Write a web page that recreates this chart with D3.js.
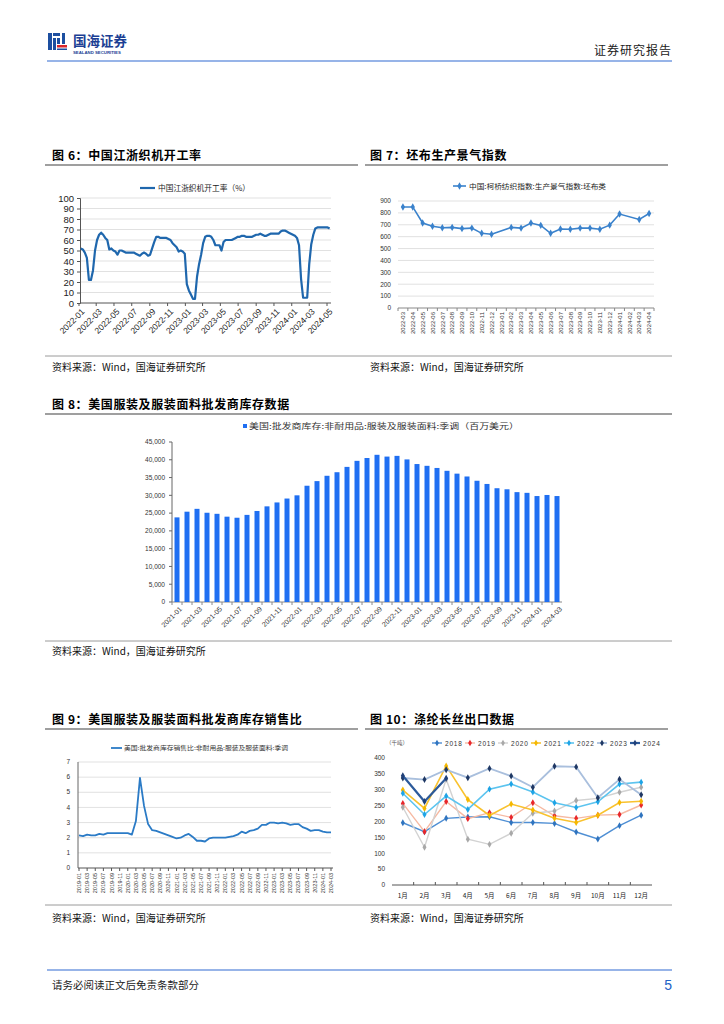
<!DOCTYPE html>
<html><head><meta charset="utf-8">
<script src="https://cdn.jsdelivr.net/npm/d3@7"></script>
<style>
body{margin:0;background:#fff;}
svg text{font-family:"Liberation Sans",Arial,"Noto Sans CJK SC",sans-serif;}
svg text.cjk{font-family:"Noto Sans CJK SC","Liberation Sans",sans-serif;}
</style></head><body>
<svg id="page" width="724" height="1024"></svg>
<script>
// ---------- DATA ----------
// Fig 6: weekly loom operating rate (%), weekly from 2022-01-07
const loomStart = "2022-01-07";
const loomRate = [52,51,48,43,22,22,31,50,60,65,
67,65,62,60,51,52,50,49,46,50,
50,49,48,48,48,48,48,47,46,45,
47,48,47,45,46,52,58,63,63,62,
62,62,62,61,60,57,55,53,49,50,
49,47,18,12,8,4,4,25,37,46,
57,63,64,64,63,60,55,55,55,50,
58,60,60,60,60,61,62,63,63,64,
64,63,63,63,63,64,65,65,66,65,
64,64,65,66,66,66,66,66,68,69,
69,68,67,66,65,64,62,55,23,5,
5,5,37,56,65,71,72,72,72,72,
72,72,71];
const loomTicks = ["2022-01","2022-03","2022-05","2022-07","2022-09","2022-11","2023-01","2023-03","2023-05","2023-07","2023-09","2023-11","2024-01","2024-03","2024-05"];
const loomYTicks = [0,10,20,30,40,50,60,70,80,90,100];

// Fig 7: greige cloth production index
const clothMonths = ["2022-03","2022-04","2022-05","2022-06","2022-07","2022-08","2022-09","2022-10","2022-11","2022-12","2023-01","2023-02","2023-03","2023-04","2023-05","2023-06","2023-07","2023-08","2023-09","2023-10","2023-11","2023-12","2024-01","2024-02","2024-03","2024-04"];
const clothIndex = [850,850,715,688,675,678,668,672,628,620,null,678,672,715,695,628,665,662,672,672,662,697,790,null,745,795];
const clothYTicks = [0,100,200,300,400,500,600,700,800,900];

// Fig 8: US apparel wholesale inventory (million USD)
const invMonths = ["2021-01","2021-02","2021-03","2021-04","2021-05","2021-06","2021-07","2021-08","2021-09","2021-10","2021-11","2021-12",
"2022-01","2022-02","2022-03","2022-04","2022-05","2022-06","2022-07","2022-08","2022-09","2022-10","2022-11","2022-12",
"2023-01","2023-02","2023-03","2023-04","2023-05","2023-06","2023-07","2023-08","2023-09","2023-10","2023-11","2023-12",
"2024-01","2024-02","2024-03"];
const invValues = [23800,25400,26200,25100,24800,24000,23700,24500,25600,26900,28000,29100,
30000,32700,34000,35500,36500,38000,39700,40500,41400,40900,41100,40100,
38800,38300,37700,36900,36100,35300,34100,33200,32000,31700,30900,30700,
29800,30100,29800];
const invYTicks = [0,5000,10000,15000,20000,25000,30000,35000,40000,45000];

// Fig 9: US apparel wholesale inventory/sales ratio, monthly 2019-01 .. 2024-03
const ratioValues = [2.15,2.1,2.2,2.15,2.15,2.25,2.2,2.3,2.3,2.3,2.3,2.3,
2.3,2.2,3.1,5.95,4.1,2.9,2.5,2.45,2.35,2.25,2.15,2.05,
1.95,2.0,2.15,2.25,2.05,1.8,1.8,1.75,1.95,2.0,2.0,2.0,
2.0,2.05,2.1,2.2,2.4,2.3,2.45,2.5,2.6,2.85,2.85,3.0,
3.0,2.95,3.0,2.95,2.85,2.9,2.9,2.7,2.6,2.45,2.5,2.5,
2.4,2.35,2.35];
const ratioTicks = ["2019-01","2019-03","2019-05","2019-07","2019-09","2019-11","2020-01","2020-03","2020-05","2020-07","2020-09","2020-11",
"2021-01","2021-03","2021-05","2021-07","2021-09","2021-11","2022-01","2022-03","2022-05","2022-07","2022-09","2022-11",
"2023-01","2023-03","2023-05","2023-07","2023-09","2023-11","2024-01","2024-03"];
const ratioYTicks = [0,1,2,3,4,5,6,7];

// Fig 10: polyester filament exports (kt)
const expMonths = ["1月","2月","3月","4月","5月","6月","7月","8月","9月","10月","11月","12月"];
const expYears = ["2018","2019","2020","2021","2022","2023","2024"];
const exp2018 = [196,168,210,214,215,197,197,194,167,145,187,220];
const exp2019 = [257,168,263,209,228,213,259,218,210,220,222,252];
const exp2020 = [245,119,333,144,128,163,226,233,266,273,292,308];
const exp2021 = [299,241,375,269,219,255,236,210,197,220,260,264];
const exp2022 = [289,222,280,238,302,318,293,259,244,262,318,324];
const exp2023 = [337,332,363,338,367,343,308,374,372,275,333,284];
const exp2024 = [344,263,336];
const expYTicks = [0,50,100,150,200,250,300,350,400];

// ---------- DRAW ----------
const svg = d3.select("#page");
svg.append("rect").attr("width",724).attr("height",1024).attr("fill","#fff");

function text(g,x,y,s,size,opt){
  opt = opt||{};
  const t = g.append("text").attr("x",x).attr("y",y).text(s).attr("font-size",size)
    .attr("fill",opt.fill||"#000");
  if(opt.cls) t.attr("class",opt.cls);
  if(opt.anchor) t.attr("text-anchor",opt.anchor);
  if(opt.weight) t.attr("font-weight",opt.weight);
  if(opt.ls) t.attr("letter-spacing",opt.ls);
  if(opt.len) t.attr("textLength",opt.len).attr("lengthAdjust","spacingAndGlyphs");
  return t;
}
function hline(g,x1,x2,y,color,w){
  g.append("line").attr("x1",x1).attr("x2",x2).attr("y1",y).attr("y2",y)
    .attr("stroke",color).attr("stroke-width",w);
}

// header
const hdr = svg.append("g");
hdr.append("rect").attr("x",48).attr("y",33).attr("width",4).attr("height",17).attr("fill","#1d4fa0");
hdr.append("rect").attr("x",53).attr("y",33).attr("width",7).attr("height",3).attr("fill","#1d4fa0");
hdr.append("rect").attr("x",53).attr("y",38).attr("width",3).attr("height",12).attr("fill","#1d4fa0");
hdr.append("rect").attr("x",57).attr("y",38).attr("width",3).attr("height",6).attr("fill","#1d4fa0");
hdr.append("rect").attr("x",62).attr("y",33).attr("width",3).attr("height",11).attr("fill","#1d4fa0");
hdr.append("rect").attr("x",57).attr("y",45).attr("width",10).attr("height",2.5).attr("fill","#d9262b");
hdr.append("rect").attr("x",57).attr("y",48.5).attr("width",10).attr("height",1.5).attr("fill","#1d4fa0");
text(hdr,73,46,"国海证券",13.5,{cls:"cjk",weight:"bold",fill:"#1c3f94"});
text(hdr,73,53.5,"SEALAND SECURITIES",4.3,{fill:"#1c3f94",weight:"bold"});
text(hdr,672,55,"证券研究报告",12,{cls:"cjk",anchor:"end",fill:"#222",ls:1});
hline(hdr,47,672,61,"#97b4e8",2);

// footer
const ftr = svg.append("g");
hline(ftr,47,672,970,"#97b4e8",2);
text(ftr,52,989,"请务必阅读正文后免责条款部分",10.5,{cls:"cjk",fill:"#222"});
text(ftr,672,990,"5",14,{anchor:"end",fill:"#2262c6"});

// titles & sources
function title(x,y,s,x1,x2){
  text(svg,x,y,s,12,{cls:"cjk",weight:"bold",ls:0.6});
  hline(svg,x1,x2,y+5,"#7f7f7f",1.6);
}
title(52,160,"图 6：中国江浙织机开工率",45,358);
title(370,160,"图 7：坯布生产景气指数",365,668);
title(52,409,"图 8：美国服装及服装面料批发商库存数据",45,672);
title(52,724,"图 9：美国服装及服装面料批发商库存销售比",45,358);
title(370,724,"图 10：涤纶长丝出口数据",365,668);

hline(svg,45,672,356,"#9a9a9a",1);
hline(svg,45,672,641,"#9a9a9a",1);
hline(svg,45,672,905,"#9a9a9a",1);
[[52,371],[370,371],[52,655],[52,922],[370,922]].forEach(p=>{
  text(svg,p[0],p[1],"资料来源：Wind，国海证券研究所",10,{cls:"cjk",fill:"#111"});
});

// ---------- Fig 6 ----------
(function(){
  const g = svg.append("g");
  const parse = d3.timeParse("%Y-%m-%d");
  const t0 = parse(loomStart);
  const pts = loomRate.map((v,i)=>({d:d3.timeDay.offset(t0,7*i),v}));
  const x = d3.scaleTime().domain([new Date(2022,0,1),new Date(2024,4,1)]).range([79,327]);
  const y = d3.scaleLinear().domain([0,100]).range([303,198]);
  g.selectAll(".gr").data(loomYTicks.filter(d=>d>0)).enter().append("line")
    .attr("x1",80).attr("x2",331).attr("y1",d=>y(d)).attr("y2",d=>y(d))
    .attr("stroke","#d9d9d9").attr("stroke-width",0.8);
  const ya = g.append("g").attr("transform","translate(80,0)")
    .call(d3.axisLeft(y).tickValues(loomYTicks).tickSize(3).tickPadding(3));
  ya.select(".domain").attr("stroke","#555");
  ya.selectAll(".tick line").attr("stroke","#555");
  ya.selectAll("text").attr("font-size",9.5).attr("fill","#222").attr("font-family","Liberation Sans, Arial");
  hline(g,80,331,303,"#555",1);
  const pm = d3.timeParse("%Y-%m");
  loomTicks.forEach(s=>{
    const xx = x(pm(s));
    g.append("line").attr("x1",xx).attr("x2",xx).attr("y1",303).attr("y2",306).attr("stroke","#555");
    g.append("text").attr("transform",`translate(${xx+2},${308}) rotate(-45)`)
      .attr("text-anchor","end").attr("dy","0.7em").attr("font-size",8.5).attr("fill","#222").text(s);
  });
  g.append("path").datum(pts).attr("fill","none").attr("stroke","#1f67ad").attr("stroke-width",2.2)
    .attr("stroke-linejoin","round")
    .attr("d",d3.line().x(d=>x(d.d)).y(d=>y(d.v)));
  hline(g,140,155,188,"#1f67ad",2.2);
  text(g,158,191,"中国江浙织机开工率（%）",8,{cls:"cjk",fill:"#222",len:92});
})();

// ---------- Fig 7 ----------
(function(){
  const g = svg.append("g");
  const x = d3.scaleBand().domain(clothMonths).range([398,654]);
  const y = d3.scaleLinear().domain([0,900]).range([308,201]);
  g.selectAll(".gr").data(clothYTicks.filter(d=>d>0)).enter().append("line")
    .attr("x1",398).attr("x2",654).attr("y1",d=>y(d)).attr("y2",d=>y(d))
    .attr("stroke","#d9d9d9").attr("stroke-width",0.8);
  clothYTicks.forEach(v=>text(g,391,y(v)+2.3,String(v),6.5,{anchor:"end",fill:"#333"}));
  hline(g,398,654,308,"#888",1);
  clothMonths.forEach((m,i)=>{
    const xb = x(m);
    g.append("line").attr("x1",xb).attr("x2",xb).attr("y1",308).attr("y2",311).attr("stroke","#888");
    const cx = xb + x.bandwidth()/2;
    g.append("text").attr("transform",`translate(${cx+2.2},${312}) rotate(-90)`)
      .attr("text-anchor","end").attr("font-size",6).attr("fill","#333").text(m);
  });
  g.append("line").attr("x1",654).attr("x2",654).attr("y1",308).attr("y2",311).attr("stroke","#888");
  const pts = clothMonths.map((m,i)=>({m,v:clothIndex[i]})).filter(d=>d.v!==null);
  const cx = d=>x(d.m)+x.bandwidth()/2;
  g.append("path").datum(pts).attr("fill","none").attr("stroke","#3a82cc").attr("stroke-width",1.6)
    .attr("d",d3.line().x(cx).y(d=>y(d.v)));
  g.selectAll(".mk").data(pts).enter().append("path")
    .attr("transform",d=>`translate(${cx(d)},${y(d.v)})`)
    .attr("d",d3.symbol(d3.symbolDiamond,16)).attr("fill","#3a82cc");
  hline(g,453,466,186,"#3a82cc",1.6);
  g.append("path").attr("transform","translate(459.5,186)").attr("d",d3.symbol(d3.symbolDiamond,16)).attr("fill","#3a82cc");
  text(g,469,188.5,"中国:柯桥纺织指数:生产景气指数:坯布类",7,{cls:"cjk",fill:"#222",len:137});
})();

// ---------- Fig 8 ----------
(function(){
  const g = svg.append("g");
  const x = d3.scaleBand().domain(invMonths).range([172,562]).paddingInner(0.5).paddingOuter(0.25);
  const y = d3.scaleLinear().domain([0,45000]).range([602,442]);
  const fmt = d3.format(",");
  g.append("line").attr("x1",172).attr("x2",172).attr("y1",442).attr("y2",602).attr("stroke","#666");
  invYTicks.forEach(v=>{
    g.append("line").attr("x1",169).attr("x2",172).attr("y1",y(v)).attr("y2",y(v)).attr("stroke","#666");
    text(g,165,y(v)+2.3,fmt(v),6.5,{anchor:"end",fill:"#333"});
  });
  hline(g,172,562,602,"#888",1);
  g.selectAll(".bar").data(invValues).enter().append("rect")
    .attr("x",(d,i)=>x(invMonths[i])).attr("width",x.bandwidth())
    .attr("y",d=>y(d)).attr("height",d=>602-y(d)).attr("fill","#1f6ff2");
  invMonths.forEach((m,i)=>{
    const xb = x(m) - x.step()*x.paddingInner()/2;
    g.append("line").attr("x1",xb).attr("x2",xb).attr("y1",602).attr("y2",605).attr("stroke","#888");
    if(i%2===0){
      const cx = x(m)+x.bandwidth()/2;
      g.append("text").attr("transform",`translate(${cx+2},${606}) rotate(-45)`)
        .attr("text-anchor","end").attr("dy","0.7em").attr("font-size",7).attr("fill","#333").text(m);
    }
  });
  g.append("rect").attr("x",243).attr("y",424).attr("width",4).attr("height",4).attr("fill","#1f6ff2");
  text(g,249,429,"美国:批发商库存:非耐用品:服装及服装面料:季调（百万美元）",8,{cls:"cjk",fill:"#333",len:270});
})();

// ---------- Fig 9 ----------
(function(){
  const g = svg.append("g");
  const x = d3.scaleLinear().domain([0,ratioValues.length-1]).range([79,331]);
  const y = d3.scaleLinear().domain([0,7]).range([868,762]);
  g.selectAll(".gr").data(ratioYTicks.filter(d=>d>0)).enter().append("line")
    .attr("x1",78).attr("x2",331).attr("y1",d=>y(d)).attr("y2",d=>y(d))
    .attr("stroke","#d9d9d9").attr("stroke-width",0.8);
  ratioYTicks.forEach(v=>text(g,70,y(v)+2.2,String(v),6.5,{anchor:"end",fill:"#333"}));
  g.append("line").attr("x1",78).attr("x2",78).attr("y1",762).attr("y2",868).attr("stroke","#666");
  hline(g,78,333,868,"#555",1);
  ratioTicks.forEach((s,k)=>{
    const xx = x(k*2);
    g.append("line").attr("x1",xx).attr("x2",xx).attr("y1",868).attr("y2",871).attr("stroke","#555");
    g.append("text").attr("transform",`translate(${xx+2},${873}) rotate(-90)`)
      .attr("text-anchor","end").attr("font-size",5.5).attr("fill","#333").text(s);
  });
  g.append("path").datum(ratioValues).attr("fill","none").attr("stroke","#2b7bc6").attr("stroke-width",1.8)
    .attr("stroke-linejoin","round")
    .attr("d",d3.line().x((d,i)=>x(i)).y(d=>y(d)));
  hline(g,111,122,748,"#2b7bc6",1.8);
  text(g,124,750,"美国:批发商库存销售比:非耐用品:服装及服装面料:季调",6,{cls:"cjk",fill:"#333",len:164});
})();

// ---------- Fig 10 ----------
(function(){
  const g = svg.append("g");
  const x = d3.scaleBand().domain(expMonths).range([392,652]);
  const y = d3.scaleLinear().domain([0,400]).range([885,758]);
  expYTicks.forEach(v=>text(g,385,y(v)+2.3,String(v),6.5,{anchor:"end",fill:"#333"}));
  hline(g,392,652,885,"#555",1);
  expMonths.forEach((m,i)=>{
    const xb = x(m);
    if(i>0) g.append("line").attr("x1",xb).attr("x2",xb).attr("y1",885).attr("y2",882).attr("stroke","#555");
    text(g,xb+x.bandwidth()/2,898,m,6.5,{cls:"cjk",anchor:"middle",fill:"#222"});
  });
  const series = [exp2018,exp2019,exp2020,exp2021,exp2022,exp2023,exp2024];
  const lineCol = ["#4f8fd4","#f6b9a2","#d2d2d2","#f9c22e","#5cc4ef","#a9bfdd","#2c5a9a"];
  const markCol = ["#2f74bf","#e8262b","#a8a8a8","#f5b800","#1ea4e6","#1f3864","#1f3f78"];
  const widths = [1.4,1.4,1.4,1.6,1.6,1.8,2.2];
  const cx = i=>x(expMonths[i])+x.bandwidth()/2;
  series.forEach((s,k)=>{
    g.append("path").datum(s).attr("fill","none").attr("stroke",lineCol[k]).attr("stroke-width",widths[k])
      .attr("d",d3.line().x((d,i)=>cx(i)).y(d=>y(d)));
    g.selectAll(".m"+k).data(s).enter().append("path")
      .attr("transform",(d,i)=>`translate(${cx(i)},${y(d)})`)
      .attr("d",d3.symbol(d3.symbolDiamond,14)).attr("fill",markCol[k]);
  });
  // legend
  text(g,386,745,"（千吨）",5.5,{cls:"cjk",fill:"#555"});
  expYears.forEach((yr,k)=>{
    const lx = 432 + k*33;
    hline(g,lx,lx+10,743,lineCol[k],widths[k]);
    g.append("path").attr("transform",`translate(${lx+5},743)`).attr("d",d3.symbol(d3.symbolDiamond,12)).attr("fill",markCol[k]);
    text(g,lx+13,745.5,yr,6.5,{fill:"#333",ls:0.8});
  });
})();
</script>
</body></html>
